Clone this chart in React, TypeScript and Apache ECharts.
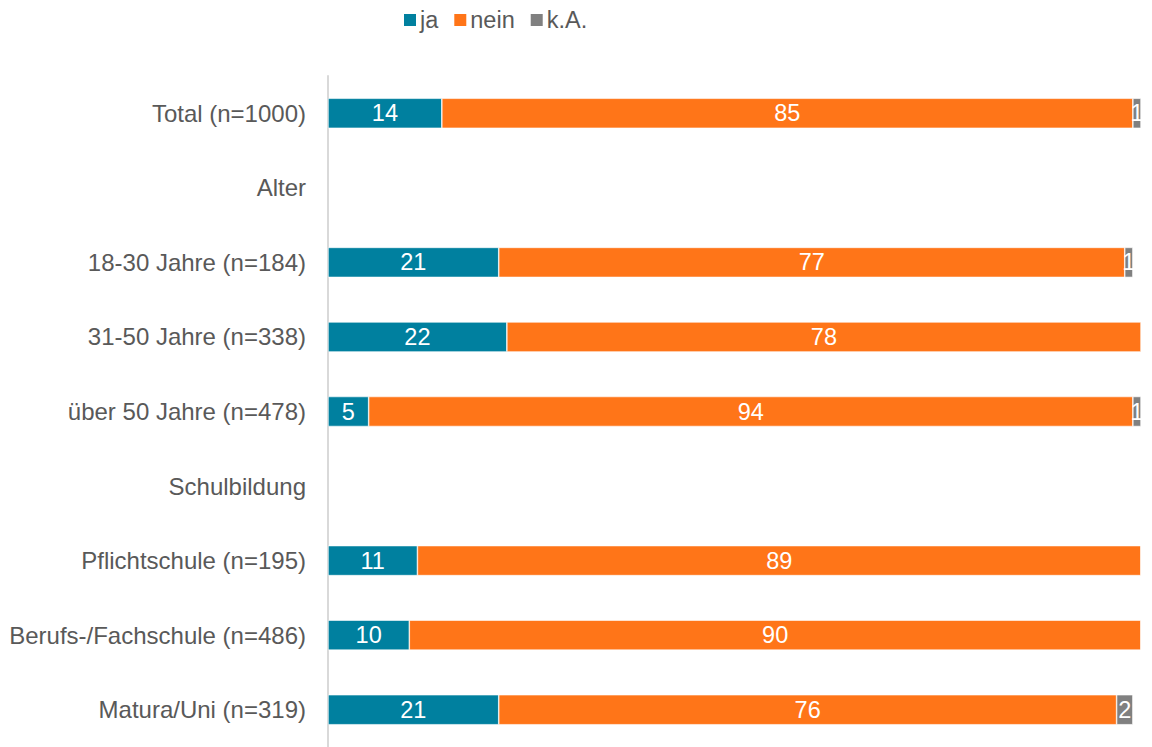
import React, { useEffect, useRef } from "react";
import * as echarts from "echarts";

const categories = [
  "Total (n=1000)",
  "Alter",
  "18-30 Jahre (n=184)",
  "31-50 Jahre (n=338)",
  "über 50 Jahre (n=478)",
  "Schulbildung",
  "Pflichtschule (n=195)",
  "Berufs-/Fachschule (n=486)",
  "Matura/Uni (n=319)",
];
const jaValues = [14, null, 21, 22, 5, null, 11, 10, 21];
const neinValues = [85, null, 77, 78, 94, null, 89, 90, 76];
const kaValues = [1, null, 1, 0.3, 1, null, 0, 0, 2];

const seriesNames = ["ja", "nein", "k.A."];
const colors = ["#00809F", "#FF7518", "#808080"];

export default function App() {
  const ref = useRef<HTMLDivElement>(null);
  useEffect(() => {
    const chart = echarts.init(ref.current!, null, { renderer: "svg" });
    const font = "Liberation Sans";
    const mk = (name: string, data: (number | null)[], color: string) => ({
      name,
      type: "bar",
      stack: "total",
      data,
      barWidth: 30,
      itemStyle: { color, borderColor: "#ffffff", borderWidth: 0.6 },
      label: {
        show: true,
        position: "inside",
        color: "#ffffff",
        fontSize: 23.5,
        fontFamily: font,
        formatter: (p: any) =>
          p.value === null || p.value === undefined || p.value < 0.5
            ? ""
            : String(Math.round(p.value)),
      },
    });
    chart.setOption({
      animation: false,
      color: colors,
      textStyle: { fontFamily: font },
      legend: {
        top: 8,
        left: 402,
        padding: 0,
        itemWidth: 14,
        itemHeight: 14,
        itemGap: 14,
        icon: "rect",
        textStyle: { fontSize: 23.5, color: "#595959", fontFamily: font, padding: [0, 0, 0, -2] },
        data: seriesNames,
      },
      grid: { left: 328, top: 76, width: 813, height: 675 },
      xAxis: {
        type: "value",
        min: 0,
        max: 100,
        show: false,
      },
      yAxis: {
        type: "category",
        inverse: true,
        data: categories,
        axisLine: { show: true, lineStyle: { color: "#D9D9D9", width: 2 } },
        axisTick: { show: false },
        axisLabel: { color: "#595959", fontSize: 24, fontFamily: font, margin: 22 },
        splitLine: { show: false },
      },
      series: [
        mk(seriesNames[0], jaValues, colors[0]),
        mk(seriesNames[1], neinValues, colors[1]),
        mk(seriesNames[2], kaValues, colors[2]),
      ],
    });
    return () => chart.dispose();
  }, []);
  return (
    <div
      ref={ref}
      style={{ position: "fixed", left: 0, top: 0, width: 1152, height: 747, background: "#fff" }}
    />
  );
}
